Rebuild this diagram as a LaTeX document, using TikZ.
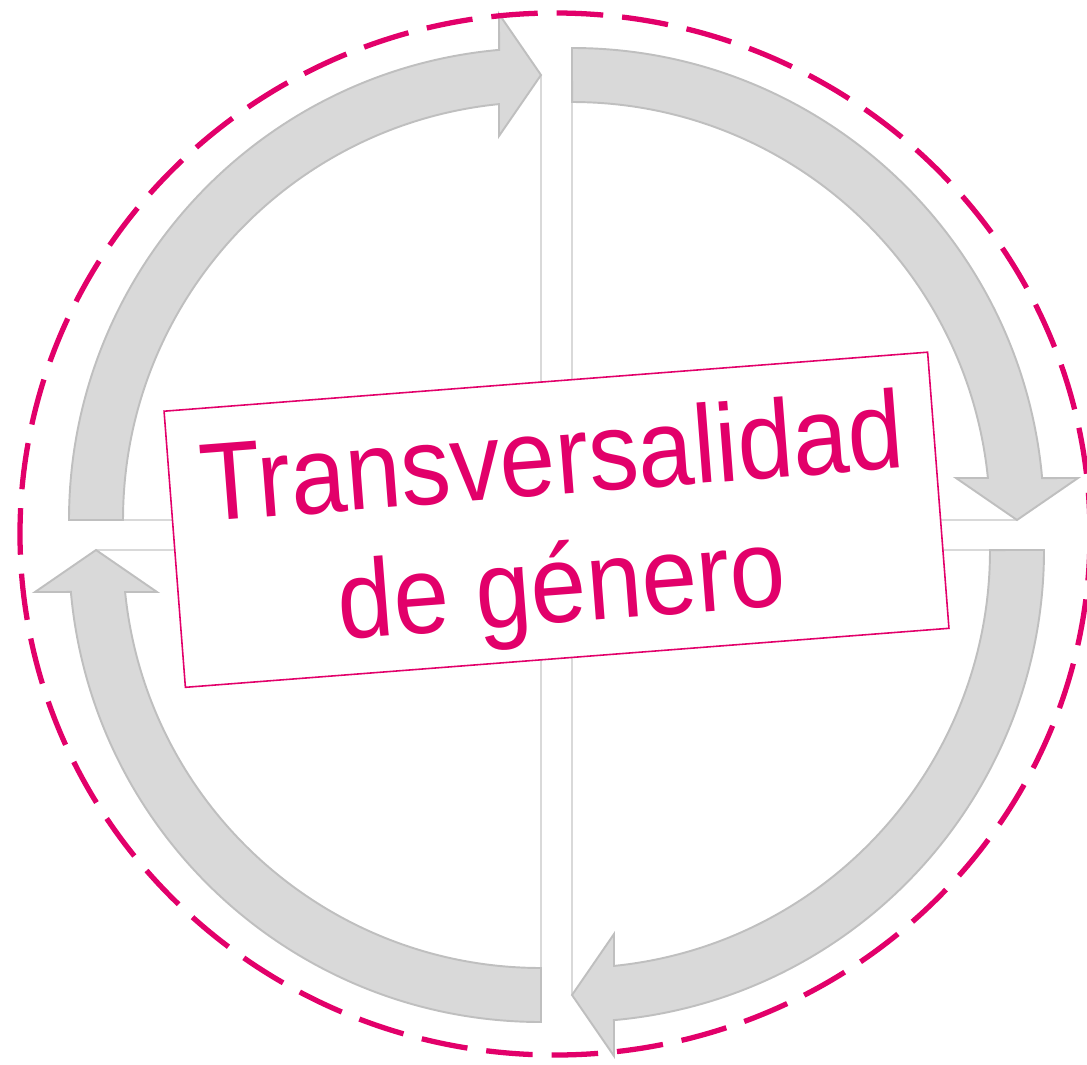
\documentclass[tikz,border=0pt]{standalone}
\usepackage{fontspec}
\newfontfamily\titlefont{Liberation Sans}
\definecolor{ringpink}{HTML}{E2006A}
\definecolor{bandgray}{HTML}{D9D9D9}
\definecolor{bandedge}{HTML}{BFBFBF}
\tikzset{
  band/.style={fill=bandgray, draw=bandedge, line width=1.1pt},
  spoke/.style={draw=bandgray, line width=1.3pt},
  ring/.style={draw=ringpink, line width=3pt, dash pattern=on 26.5pt off 10.8pt},
  titlebox/.style={draw=ringpink, fill=white, line width=0.9pt,
    minimum width=15.32cm, minimum height=5.54cm, inner sep=0pt},
  titletext/.style={text=ringpink, font=\titlefont\fontsize{63}{72}\selectfont,
    anchor=base, inner sep=0pt, xscale=0.9}
}

\begin{document}
\begin{tikzpicture}[x=0.02cm, y=-0.02cm]
  \useasboundingbox (0,0) rectangle (1087,1064);

  % spokes under the arrows
  \foreach \cx/\cy/\rot in {541/520/0, 572/520/-90, 572/550/-180, 541/550/-270}
    \draw[spoke, shift={(\cx,\cy)}, rotate=\rot] (-418,0) -- (0,0) -- (0,-445);

  % the four arrows of the cycle
  \foreach \cx/\cy/\rot in {541/520/0, 572/520/-90, 572/550/-180, 541/550/-270}
    \filldraw[band, shift={(\cx,\cy)}, rotate=\rot]
      (-472,0) arc[start angle=180, end angle=264.9, radius=472]
      -- (-42,-506) -- (0,-445) -- (-42,-384) -- (-42,-415.9)
      arc[start angle=264.23, end angle=180, radius=418] -- cycle;

  \draw[ring] (555,534) ellipse [x radius=535, y radius=521];

  \begin{scope}[shift={(556.5,519.75)}, rotate=4.42, transform shape]
    \node[titlebox] (box) at (0,0) {};
    \node[titletext] (line1) at (0,-25) {Transversalidad};
    \node[titletext] (line2) at (0,103) {de género};
  \end{scope}
\end{tikzpicture}
\end{document}
